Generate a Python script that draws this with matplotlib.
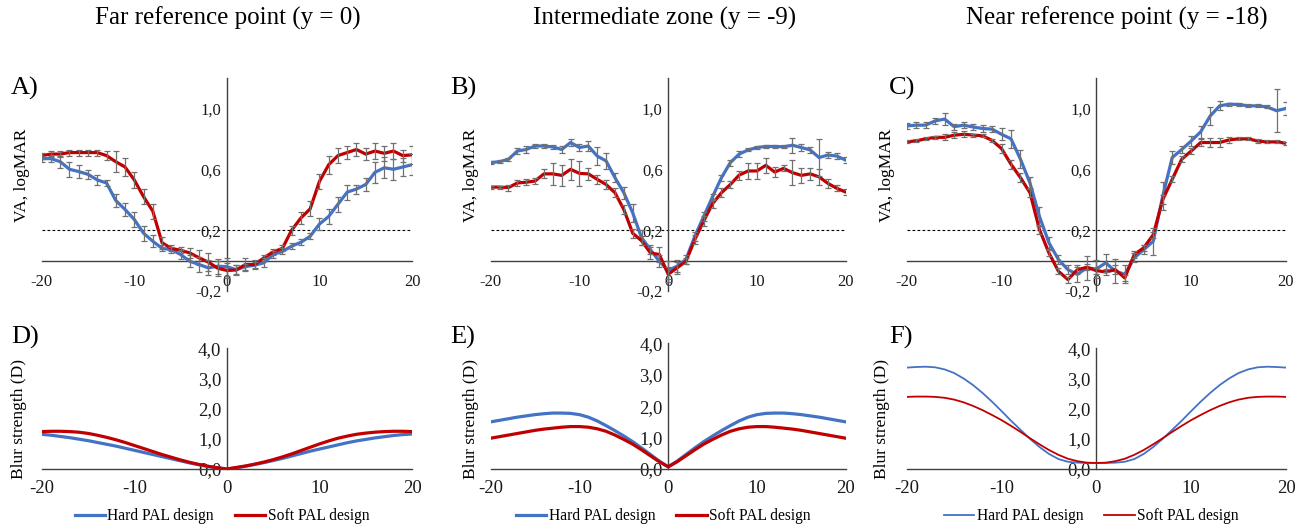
import numpy as np
import matplotlib
matplotlib.use("Agg")
import matplotlib.pyplot as plt
from matplotlib.ticker import FuncFormatter, FixedLocator

plt.rcParams['font.family'] = ['Liberation Serif', 'DejaVu Serif']

x = list(range(-20, 21))

titles = ["Far reference point (y = 0)", "Intermediate zone (y = -9)", "Near reference point (y = -18)"]
series_names = ["Hard PAL design", "Soft PAL design"]

# ---- VA (logMAR) data ----
va_a_hard = [0.67, 0.67, 0.65, 0.60, 0.585, 0.567, 0.53, 0.51, 0.395, 0.336, 0.27, 0.18, 0.127, 0.08, 0.072, 0.04,
             -0.005, -0.026, -0.048, -0.037, -0.04, -0.06, -0.04, -0.03, -0.015, 0.04, 0.06, 0.095, 0.12, 0.16, 0.24,
             0.29, 0.37, 0.45, 0.47, 0.50, 0.58, 0.61, 0.60, 0.615, 0.63]
va_a_soft = [0.69, 0.70, 0.70, 0.71, 0.71, 0.71, 0.71, 0.69, 0.65, 0.615, 0.53, 0.42, 0.325, 0.117, 0.08, 0.068,
             0.05, 0.018, -0.01, -0.05, -0.065, -0.062, -0.026, -0.026, 0.018, 0.057, 0.08, 0.20, 0.28, 0.34, 0.52,
             0.63, 0.69, 0.71, 0.73, 0.70, 0.72, 0.705, 0.72, 0.69, 0.695]
va_a_hard_err = [0.02, 0.02, 0.04, 0.05, 0.04, 0.03, 0.03, 0.02, 0.04, 0.04, 0.05, 0.05, 0.04, 0.02, 0.02, 0.03, 0.04,
                 0.05, 0.05, 0.05, 0.06, 0.03, 0.02, 0.02, 0.03, 0.02, 0.02, 0.02, 0.02, 0.02, 0.04, 0.05, 0.05, 0.05,
                 0.03, 0.04, 0.07, 0.07, 0.07, 0.06, 0.07]
va_a_soft_err = [0.02, 0.02, 0.02, 0.02, 0.02, 0.02, 0.02, 0.03, 0.07, 0.06, 0.05, 0.05, 0.05, 0.04, 0.02, 0.02, 0.03,
                 0.05, 0.06, 0.05, 0.05, 0.03, 0.04, 0.03, 0.02, 0.02, 0.02, 0.03, 0.04, 0.05, 0.05, 0.06, 0.05, 0.04,
                 0.04, 0.04, 0.05, 0.05, 0.05, 0.04, 0.06]

va_b_hard = [0.644, 0.65, 0.666, 0.72, 0.73, 0.753, 0.753, 0.747, 0.73, 0.776, 0.743, 0.753, 0.687, 0.655, 0.545,
             0.446, 0.314, 0.15, 0.072, -0.005, -0.064, -0.037, 0.007, 0.16, 0.29, 0.42, 0.545, 0.644, 0.70, 0.727,
             0.743, 0.75, 0.75, 0.748, 0.758, 0.743, 0.727, 0.677, 0.694, 0.687, 0.66]
va_b_soft = [0.483, 0.483, 0.48, 0.51, 0.515, 0.523, 0.57, 0.57, 0.56, 0.60, 0.573, 0.57, 0.534, 0.50, 0.446, 0.336,
             0.18, 0.13, 0.05, 0.04, -0.09, -0.048, -0.005, 0.138, 0.26, 0.374, 0.446, 0.50, 0.562, 0.589, 0.589,
             0.626, 0.582, 0.606, 0.578, 0.56, 0.57, 0.55, 0.507, 0.475, 0.45]
va_b_hard_err = [0.01, 0.01, 0.01, 0.02, 0.02, 0.015, 0.015, 0.015, 0.02, 0.02, 0.02, 0.03, 0.06, 0.05, 0.03, 0.04,
                 0.06, 0.05, 0.03, 0.04, 0.06, 0.04, 0.03, 0.03, 0.03, 0.02, 0.02, 0.02, 0.02, 0.01, 0.01, 0.01, 0.01,
                 0.01, 0.05, 0.02, 0.02, 0.12, 0.02, 0.02, 0.02]
va_b_soft_err = [0.01, 0.01, 0.02, 0.02, 0.02, 0.02, 0.03, 0.07, 0.07, 0.07, 0.08, 0.04, 0.03, 0.03, 0.03, 0.03, 0.03,
                 0.03, 0.04, 0.05, 0.05, 0.04, 0.02, 0.03, 0.03, 0.03, 0.03, 0.02, 0.03, 0.05, 0.05, 0.05, 0.03, 0.02,
                 0.08, 0.05, 0.04, 0.05, 0.03, 0.02, 0.02]

va_c_hard = [0.885, 0.89, 0.89, 0.918, 0.93, 0.88, 0.89, 0.878, 0.868, 0.864, 0.83, 0.80, 0.666, 0.51, 0.29, 0.117,
             0.007, -0.06, -0.09, -0.048, -0.055, -0.015, -0.07, -0.09, 0.018, 0.072, 0.127, 0.424, 0.677, 0.73,
             0.786, 0.846, 0.95, 1.017, 1.028, 1.026, 1.017, 1.017, 1.01, 0.985, 1.0]
va_c_soft = [0.78, 0.787, 0.80, 0.81, 0.81, 0.824, 0.83, 0.825, 0.82, 0.79, 0.736, 0.633, 0.545, 0.446, 0.204, 0.05,
             -0.07, -0.125, -0.06, -0.044, -0.066, -0.075, -0.06, -0.114, 0.04, 0.084, 0.17, 0.40, 0.534, 0.666,
             0.72, 0.776, 0.776, 0.776, 0.793, 0.80, 0.80, 0.786, 0.78, 0.78, 0.771]
va_c_hard_err = [0.02, 0.02, 0.02, 0.02, 0.04, 0.02, 0.02, 0.02, 0.02, 0.02, 0.04, 0.06, 0.06, 0.04, 0.06, 0.04, 0.03,
                 0.03, 0.05, 0.08, 0.06, 0.06, 0.08, 0.06, 0.03, 0.03, 0.09, 0.09, 0.04, 0.02, 0.03, 0.04, 0.06, 0.03,
                 0.01, 0.01, 0.01, 0.01, 0.01, 0.14, 0.04]
va_c_soft_err = [0.01, 0.01, 0.01, 0.01, 0.02, 0.02, 0.02, 0.01, 0.01, 0.01, 0.03, 0.03, 0.03, 0.03, 0.03, 0.02, 0.02,
                 0.02, 0.03, 0.02, 0.02, 0.02, 0.03, 0.02, 0.02, 0.02, 0.02, 0.03, 0.02, 0.02, 0.02, 0.02, 0.03, 0.03,
                 0.02, 0.01, 0.01, 0.01, 0.01, 0.01, 0.01]

# ---- Blur strength (D) data ----
blur_d_hard = [1.15, 1.12, 1.08, 1.04, 0.99, 0.94, 0.88, 0.82, 0.76, 0.69, 0.62, 0.55, 0.48, 0.41, 0.34, 0.27, 0.20,
               0.14, 0.08, 0.04, 0.0, 0.04, 0.09, 0.15, 0.21, 0.28, 0.35, 0.43, 0.51, 0.59, 0.66, 0.73, 0.80, 0.87,
               0.93, 0.98, 1.03, 1.07, 1.11, 1.14, 1.16]
blur_d_soft = [1.24, 1.25, 1.25, 1.24, 1.22, 1.18, 1.12, 1.05, 0.97, 0.88, 0.78, 0.68, 0.58, 0.48, 0.39, 0.30, 0.22,
               0.15, 0.09, 0.04, 0.0, 0.05, 0.10, 0.16, 0.23, 0.31, 0.40, 0.50, 0.61, 0.72, 0.83, 0.93, 1.02, 1.09,
               1.15, 1.19, 1.22, 1.24, 1.25, 1.25, 1.24]
blur_e_hard = [1.50, 1.55, 1.60, 1.65, 1.69, 1.73, 1.76, 1.78, 1.78, 1.77, 1.73, 1.65, 1.53, 1.38, 1.22, 1.05, 0.87,
               0.67, 0.46, 0.25, 0.07, 0.25, 0.46, 0.67, 0.87, 1.05, 1.22, 1.38, 1.53, 1.65, 1.73, 1.77, 1.78, 1.78,
               1.76, 1.73, 1.69, 1.65, 1.60, 1.55, 1.50]
blur_e_soft = [0.98, 1.03, 1.08, 1.13, 1.18, 1.23, 1.27, 1.30, 1.33, 1.35, 1.35, 1.33, 1.28, 1.20, 1.08, 0.94, 0.79,
               0.61, 0.42, 0.23, 0.07, 0.23, 0.42, 0.61, 0.79, 0.94, 1.08, 1.20, 1.28, 1.33, 1.35, 1.35, 1.33, 1.30,
               1.27, 1.23, 1.18, 1.13, 1.08, 1.03, 0.98]
blur_f_hard = [3.36, 3.38, 3.39, 3.37, 3.30, 3.18, 3.00, 2.78, 2.52, 2.23, 1.92, 1.60, 1.30, 1.00, 0.73, 0.50, 0.33,
               0.24, 0.21, 0.20, 0.20, 0.20, 0.21, 0.24, 0.33, 0.50, 0.73, 1.00, 1.30, 1.60, 1.92, 2.23, 2.52, 2.78,
               3.00, 3.18, 3.30, 3.37, 3.39, 3.38, 3.36]
blur_f_soft = [2.39, 2.40, 2.40, 2.39, 2.36, 2.30, 2.21, 2.09, 1.95, 1.79, 1.62, 1.43, 1.23, 1.02, 0.82, 0.63, 0.47,
               0.34, 0.26, 0.21, 0.20, 0.21, 0.26, 0.34, 0.47, 0.63, 0.82, 1.02, 1.23, 1.43, 1.62, 1.79, 1.95, 2.09,
               2.21, 2.30, 2.36, 2.39, 2.40, 2.40, 2.39]

BLUE = "#4472C4"
RED = "#C00000"
ERR = "#707070"

W, H = 1302, 527
fig = plt.figure(figsize=(W / 100, H / 100), dpi=100)


def px_axes(x0, x1, ytop, ybot):
    return fig.add_axes([x0 / W, 1 - ybot / H, (x1 - x0) / W, (ybot - ytop) / H])


def style_axes(ax, ylim, yticks, fs, xpad):
    ax.set_xlim(-20, 20)
    ax.set_ylim(*ylim)
    for s in ("top", "right"):
        ax.spines[s].set_visible(False)
    ax.spines["left"].set_position(("data", 0))
    ax.spines["bottom"].set_position(("data", 0))
    for s in ("left", "bottom"):
        ax.spines[s].set_color("#404040")
        ax.spines[s].set_linewidth(1.0)
    ax.xaxis.set_major_locator(FixedLocator([-20, -10, 0, 10, 20]))
    ax.yaxis.set_major_locator(FixedLocator(yticks))
    ax.xaxis.set_major_formatter(FuncFormatter(lambda v, p: f"{int(round(v))}"))
    ax.yaxis.set_major_formatter(FuncFormatter(lambda v, p: f"{v:.1f}".replace(".", ",")))
    ax.tick_params(axis="both", length=0, labelsize=fs, colors="#1a1a1a")
    ax.tick_params(axis="x", pad=xpad)
    ax.tick_params(axis="y", pad=4)
    ax.patch.set_visible(False)


top_x = [(41.7, 412), (490.7, 845.7), (906.7, 1286)]
title_cx = [228, 665, 1117]
letters_top = [("A)", 11), ("B)", 450), ("C)", 889)]
letters_bot = [("D)", 11), ("E)", 450), ("F)", 889)]
ylab_x = [22, 471, 887]
ylab_x_bot = [19, 471, 882]

va_data = [(va_a_hard, va_a_hard_err, va_a_soft, va_a_soft_err),
           (va_b_hard, va_b_hard_err, va_b_soft, va_b_soft_err),
           (va_c_hard, va_c_hard_err, va_c_soft, va_c_soft_err)]
blur_data = [(blur_d_hard, blur_d_soft), (blur_e_hard, blur_e_soft), (blur_f_hard, blur_f_soft)]
bot_y = [(348.3, 469), (343.3, 469), (348.3, 469)]
bot_lw = [2.3, 2.3, 1.3]

for i in range(3):
    x0, x1 = top_x[i]
    ax = px_axes(x0, x1, 78, 291)
    style_axes(ax, (-0.2, 1.2), [-0.2, 0.2, 0.6, 1.0], 12, 10)
    hard, herr, soft, serr = va_data[i]
    ax.plot([-20, 20], [0.2, 0.2], color="black", lw=0.8, ls=(0, (2.5, 2)), zorder=1)
    ax.plot(x, hard, color=BLUE, lw=2.3, zorder=3, solid_capstyle="round")
    ax.plot(x, soft, color=RED, lw=2.3, zorder=3, solid_capstyle="round")
    ax.errorbar(x, hard, yerr=herr, fmt="none", ecolor=ERR, elinewidth=0.9, capsize=2.5, capthick=0.9, zorder=4)
    ax.errorbar(x, soft, yerr=serr, fmt="none", ecolor=ERR, elinewidth=0.9, capsize=2.5, capthick=0.9, zorder=4)
    fig.text(title_cx[i] / W, 1 - 18 / H, titles[i], ha="center", va="center", fontsize=18)
    fig.text(letters_top[i][1] / W, 1 - 88 / H, letters_top[i][0], ha="left", va="center", fontsize=19)
    fig.text(ylab_x[i] / W, 1 - 175 / H, "VA, logMAR", rotation=90, ha="center", va="center", fontsize=12.5)

    y0, y1 = bot_y[i]
    axb = px_axes(x0, x1, y0, y1)
    style_axes(axb, (0, 4), [0, 1, 2, 3, 4], 13.5, 8)
    bh, bs = blur_data[i]
    lh, = axb.plot(x, bh, color=BLUE, lw=bot_lw[i], zorder=3, label=series_names[0])
    ls_, = axb.plot(x, bs, color=RED, lw=bot_lw[i], zorder=3, label=series_names[1])
    fig.text(letters_bot[i][1] / W, 1 - 337 / H, letters_bot[i][0], ha="left", va="center", fontsize=19)
    fig.text(ylab_x_bot[i] / W, 1 - 419 / H, "Blur strength (D)", rotation=90, ha="center", va="center",
             fontsize=12.5)
    cx = (x0 + x1) / 2 / W
    axb.legend(handles=[lh, ls_], loc="center", bbox_to_anchor=(cx - 5 / W, 1 - 516 / H),
               bbox_transform=fig.transFigure, ncol=2, frameon=False, fontsize=11.2,
               handlelength=1.95, handletextpad=0.15, columnspacing=1.35, borderpad=0)

fig.savefig("out.png", dpi=100)
